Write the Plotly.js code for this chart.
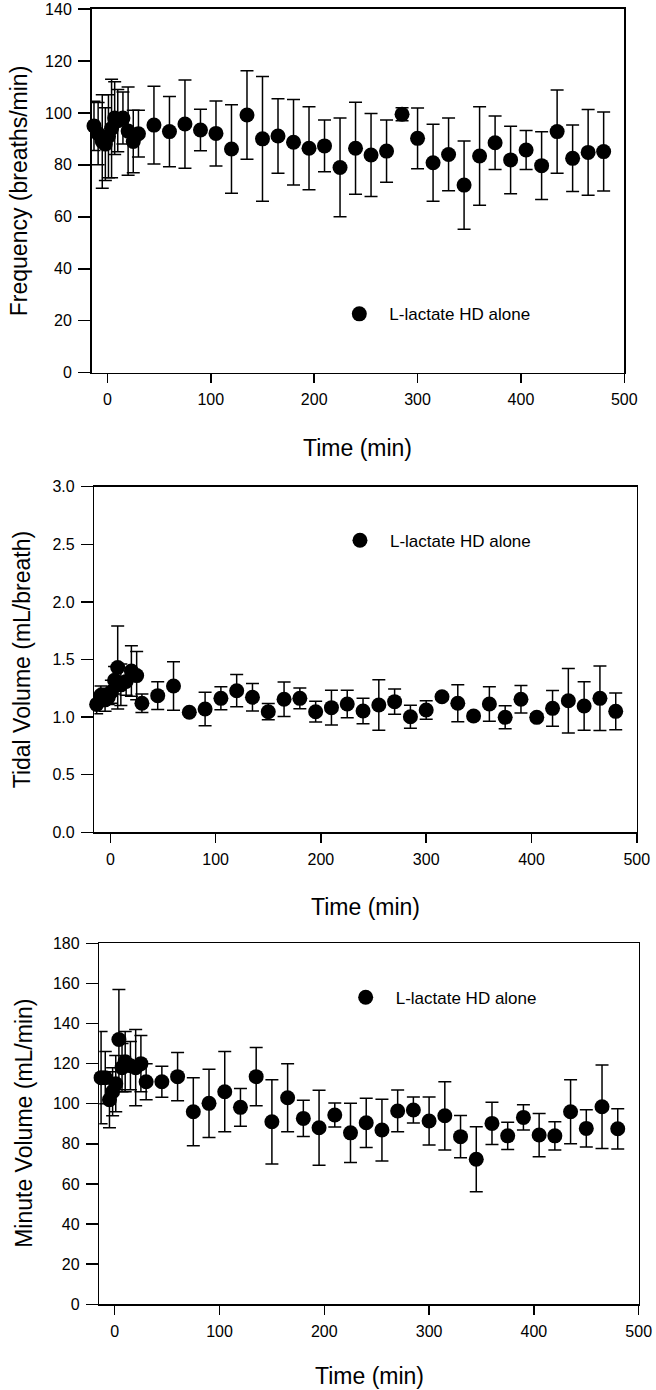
<!DOCTYPE html>
<html>
<head>
<meta charset="utf-8">
<script src="https://cdn.plot.ly/plotly-3.0.1.min.js"></script>
<style>html,body{margin:0;padding:0;background:#fff;}#chart{width:656px;height:1390px;}</style>
</head>
<body>
<div id="chart"></div>
<script>
// Time points (min)
const times = [-13,-9,-5,-2,1,4,7,10,15,20,25,30,45,60,75,90,105,120,135,150,165,180,195,210,225,240,255,270,285,300,315,330,345,360,375,390,405,420,435,450,465,480];

// Frequency (breaths/min)
const freqMean = [95,92,89,88,91,94,98,97,98,93,89,92,95.3,92.8,95.7,93.4,92.1,86.1,99.2,90,91.1,88.7,86.4,87.3,79,86.4,83.8,85.3,99.5,90.2,80.8,84,72.2,83.4,88.5,81.9,85.7,79.7,92.8,82.5,84.8,85.1];
const freqErr  = [9.5,12,18,14,16,19,14,12,10,17,12,9,15,13.5,17,8,12.5,17,17,24,14.3,16.5,16,10,19,17.7,16,12,2.5,11.7,14.8,14,17,19,10.3,13,7.5,13,16,12.8,16.5,15.2];

// Tidal volume (mL/breath)
const tvMean = [1.11,1.19,1.15,1.17,1.22,1.32,1.43,1.28,1.31,1.40,1.36,1.12,1.186,1.27,1.042,1.07,1.163,1.229,1.172,1.047,1.155,1.163,1.047,1.082,1.114,1.053,1.105,1.134,1.003,1.062,1.177,1.12,1.01,1.114,0.998,1.155,0.998,1.076,1.142,1.096,1.163,1.05];
const tvErr  = [0.08,0.08,0.1,0.06,0.1,0.12,0.36,0.18,0.12,0.22,0.21,0.08,0.12,0.21,0.02,0.145,0.1,0.14,0.12,0.07,0.15,0.09,0.09,0.15,0.12,0.11,0.22,0.11,0.1,0.08,0.02,0.16,0.03,0.15,0.1,0.12,0.03,0.155,0.28,0.21,0.28,0.16];

// Minute volume (mL/min)
const mvMean = [113,113,102,106,110,132,118,121,119,118,120,111,111,113.5,96,100.2,106,98.2,113.5,91,103,92.7,88,94.4,85.5,90.5,86.9,96.4,96.9,91.4,94,83.6,72.3,90.2,84,93.2,84.4,84,96,87.7,98.5,87.5];
const mvErr  = [23,13,14,12,14,25,12,15,12,19,14,9,7.7,12,17,17,20,9.4,14.5,21,17,9,18.7,6,14.8,12.3,15.4,10.4,6.5,12,17,10.5,16.2,10.5,6.8,6.3,10.8,7,16,9.3,20.8,10];

const seriesName = 'L-lactate HD alone';
const xTicks = [0,100,200,300,400,500];
const xTitle = 'Time (min)';
const yTitles = ['Frequency (breaths/min)','Tidal Volume (mL/breath)','Minute Volume (mL/min)'];

const FONT = 'Liberation Sans, Arial, Helvetica, sans-serif';

function trace(y, err, xa, ya, lg) {
  return {
    type: 'scatter', mode: 'markers', name: seriesName,
    x: times, y: y, xaxis: xa, yaxis: ya, legend: lg,
    cliponaxis: false,
    marker: {color: '#000', size: 15, symbol: 'circle'},
    error_y: {type: 'data', array: err, visible: true, color: '#000', thickness: 1.5, width: 6.5}
  };
}

const data = [
  trace(freqMean, freqErr, 'x', 'y', 'legend'),
  trace(tvMean, tvErr, 'x2', 'y2', 'legend2'),
  trace(mvMean, mvErr, 'x3', 'y3', 'legend3')
];

const axBase = {
  showline: true, linecolor: '#000', linewidth: 1.5, mirror: true,
  ticks: 'outside', tickcolor: '#000', tickwidth: 1.5,
  showgrid: false, zeroline: false,
  tickfont: {family: FONT, size: 16, color: '#000'}
};
function xa(domain, range, anchor) {
  return Object.assign({}, axBase, {domain: domain, range: range, anchor: anchor, tickvals: xTicks, ticklen: 9, ticklabelstandoff: 3});
}
function ya(domain, range, dtick, anchor, fmt) {
  return Object.assign({}, axBase, {domain: domain, range: range, anchor: anchor, tick0: 0, dtick: dtick, ticklen: 12, tickformat: fmt, ticklabelstandoff: 3});
}

function legendAt(x, y) {
  return {x: x, y: y, xanchor: 'left', yanchor: 'middle', bgcolor: 'rgba(0,0,0,0)', borderwidth: 0,
          itemwidth: 50, font: {family: FONT, size: 17, color: '#000'}};
}

function titleAnn(text, x, y, angle) {
  return {text: text, x: x, y: y, xref: 'paper', yref: 'paper', showarrow: false,
          xanchor: 'center', yanchor: 'middle', textangle: angle,
          font: {family: FONT, size: 23, color: '#000'}};
}

const layout = {
  width: 656, height: 1390,
  margin: {l: 0, r: 0, t: 0, b: 0},
  paper_bgcolor: '#fff', plot_bgcolor: '#fff',
  font: {family: FONT, color: '#000'},
  showlegend: true,
  xaxis:  xa([0.1395, 0.9517], [-15.4, 500], 'y'),
  yaxis:  ya([0.7319, 0.99353], [0, 140], 20, 'x', ''),
  xaxis2: xa([0.1438, 0.9707], [-15.2, 500], 'y2'),
  yaxis2: ya([0.40122, 0.64986], [0, 3], 0.5, 'x2', '.1f'),
  xaxis3: xa([0.15137, 0.97363], [-14.7, 500], 'y3'),
  yaxis3: ya([0.06165, 0.32137], [0, 180], 20, 'x3', ''),
  legend:  legendAt(0.502, 0.7739),
  legend2: legendAt(0.503, 0.6110),
  legend3: legendAt(0.5117, 0.2822),
  annotations: [
    titleAnn(yTitles[0], 0.028, 0.8627, -90),
    titleAnn(yTitles[1], 0.0331, 0.5255, -90),
    titleAnn(yTitles[2], 0.0366, 0.19151, -90),
    titleAnn(xTitle, 0.5456, 1 - 448/1390, 0),
    titleAnn(xTitle, 0.5573, 1 - 907/1390, 0),
    titleAnn(xTitle, 0.5625, 1 - 1376/1390, 0)
  ]
};

Plotly.newPlot('chart', data, layout, {staticPlot: true, displayModeBar: false});
</script>
</body>
</html>
